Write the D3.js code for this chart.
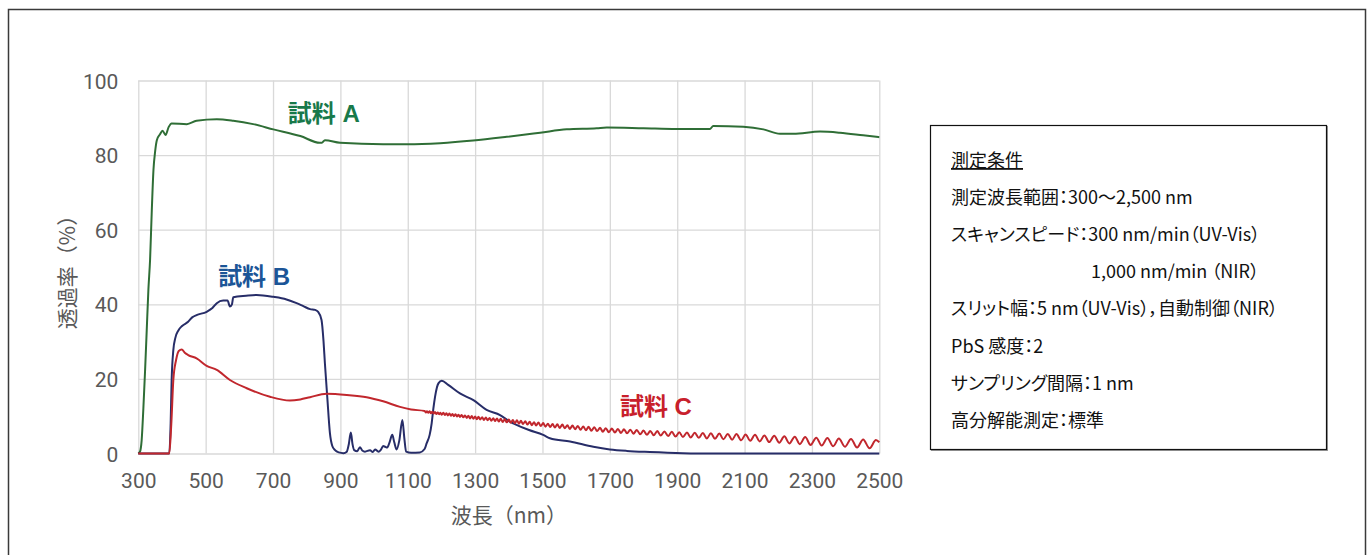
<!DOCTYPE html>
<html>
<head>
<meta charset="utf-8">
<script src="https://cdn.jsdelivr.net/npm/d3@7"></script>
<style>
  html, body { margin: 0; padding: 0; background: #fff; }
  svg { display: block; }
  text { font-family: "Noto Sans CJK JP", "Noto Sans", sans-serif; }
  .tick text { font-family: Roboto, "Liberation Sans", sans-serif; }
  .series-label { font-family: "Liberation Sans", "Noto Sans CJK JP", sans-serif; }
</style>
</head>
<body>
<div id="chart"></div>
<script>
// wavelength ticks (nm) and transmittance ticks (%)
const xTicks = [300, 500, 700, 900, 1100, 1300, 1500, 1700, 1900, 2100, 2300, 2500];
const yTicks = [0, 20, 40, 60, 80, 100];

// 試料 A : [nm, %]
const sampleA = [
  [300, 0], [305, 0.5], [310, 3.6], [315, 12], [320, 22], [325, 33], [330, 44], [335, 52],
  [340, 65], [345, 76], [350, 81], [355, 84], [364, 85.5], [372, 86.5], [381, 85.4], [390, 87.5],
  [399, 88.5], [444, 88.3], [473, 89.2], [533, 89.6], [582, 89.2], [641, 88.3], [701, 86.9],
  [781, 85.1], [839, 83.3], [845, 83.3], [854, 84.0], [899, 83.3], [1027, 82.9], [1100, 82.9],
  [1196, 83.2], [1294, 83.9], [1394, 84.9], [1493, 86.0], [1572, 86.9], [1661, 87.2], [1691, 87.4],
  [1800, 87.2], [1898, 87.0], [1997, 87.0], [2007, 87.8], [2096, 87.6], [2156, 86.9], [2205, 85.7],
  [2245, 85.7], [2324, 86.3], [2383, 86.0], [2452, 85.3], [2500, 84.8]
];

// 試料 B : [nm, %]
const sampleB = [
  [300, 0], [392, 0], [396, 8], [399, 19.7], [404, 27.7], [410, 31], [419, 33], [430, 34.2],
  [448, 35.3], [460, 36.5], [473, 37.1], [503, 38], [520, 39], [533, 40.3], [552, 41], [565, 41],
  [572, 39.4], [578, 40], [582, 41.9], [620, 42.3], [651, 42.5], [701, 42.0], [740, 41.3],
  [770, 40.3], [790, 39.5], [810, 38.7], [825, 38.5], [834, 38.0], [844, 35.8], [850, 30],
  [854, 24.2], [861, 15.2], [869, 5.4], [876, 2], [884, 0.9], [895, 0.3], [909, 0.1], [919, 0.5],
  [925, 2.5], [931, 5.6], [936, 2.5], [941, 0.9], [950, 0.6], [958, 1.7], [965, 0.8], [973, 0.5],
  [988, 0.9], [996, 0.4], [1003, 1.1], [1013, 0.5], [1020, 1.0], [1027, 2.0], [1033, 1.8],
  [1039, 1.6], [1046, 3], [1054, 5.0], [1060, 3], [1067, 1.1], [1075, 3.5], [1084, 9.0], [1090, 4],
  [1095, 0.5], [1110, 0.2], [1136, 0.3], [1150, 1.2], [1156, 2.7], [1165, 5], [1171, 8.1],
  [1176, 12], [1181, 15.2], [1191, 18.8], [1201, 19.5], [1220, 18.4], [1255, 16.1], [1295, 14.3],
  [1334, 11.7], [1374, 10.3], [1404, 8.5], [1413, 8.1], [1460, 6.3], [1502, 5.0], [1522, 4.1],
  [1582, 3.2], [1651, 1.8], [1700, 1.1], [1750, 0.7], [1819, 0.4], [1917, 0.1], [2000, 0], [2500, 0]
];

const sampleC = [
  [300, 0], [392, 0], [398, 8], [404, 19.7], [412, 25], [420, 27.5], [429, 27.9], [438, 27],
  [448, 26.4], [473, 25.5], [503, 23.5], [533, 22.4], [572, 19.7], [622, 17.5], [691, 15.2],
  [750, 14.2], [781, 14.5], [810, 15.1], [859, 16.0], [919, 15.7], [978, 15.1], [1027, 14],
  [1077, 12.5], [1110, 11.8],
  [1150, 11.4], [1154, 11.0], [1157, 11.3], [1161, 10.9], [1165, 11.3], [1169, 10.8], [1173, 11.2],
  [1177, 10.7], [1181, 11.1], [1185, 10.6], [1189, 11.0], [1193, 10.5], [1197, 10.9], [1201, 10.4],
  [1206, 10.9], [1210, 10.3], [1215, 10.8], [1219, 10.2], [1224, 10.7], [1228, 10.1], [1233, 10.6],
  [1237, 10.0], [1242, 10.5], [1246, 9.9], [1251, 10.4], [1255, 9.8], [1260, 10.3], [1265, 9.7],
  [1270, 10.2], [1275, 9.55], [1280, 10.1], [1285, 9.4], [1290, 10.05], [1295, 9.3], [1300, 9.95],
  [1305, 9.2], [1310, 9.85], [1315, 9.1], [1321, 9.75], [1326, 9.0], [1332, 9.65], [1337, 8.9],
  [1343, 9.55], [1348, 8.8], [1354, 9.45], [1359, 8.7], [1365, 9.4], [1370, 8.55], [1376, 9.3],
  [1382, 8.45], [1388, 9.2], [1394, 8.35], [1400, 9.1], [1406, 8.25], [1412, 9.0], [1418, 8.1],
  [1424, 8.9], [1430, 8.0], [1436, 8.75], [1442, 7.9], [1449, 8.65], [1455, 7.75], [1462, 8.5],
  [1468, 7.6], [1475, 8.4], [1481, 7.5], [1488, 8.3], [1495, 7.35], [1502, 8.15], [1509, 7.2],
  [1516, 8.0], [1523, 7.1], [1530, 7.9], [1537, 6.95], [1544, 7.85], [1551, 6.85], [1559, 7.75],
  [1566, 6.75], [1574, 7.6], [1581, 6.6], [1589, 7.5], [1597, 6.5], [1605, 7.4], [1613, 6.35],
  [1621, 7.25], [1629, 6.25], [1637, 7.15], [1645, 6.1], [1654, 7.05], [1662, 6.0], [1671, 6.9],
  [1679, 5.85], [1688, 6.8], [1697, 5.7], [1706, 6.7], [1715, 5.6], [1724, 6.6], [1733, 5.5],
  [1742, 6.5], [1751, 5.4], [1761, 6.4], [1770, 5.3], [1780, 6.3], [1790, 5.15], [1800, 6.15],
  [1810, 5.0], [1820, 6.05], [1830, 4.9], [1841, 6.0], [1851, 4.8], [1862, 5.9], [1873, 4.7],
  [1884, 5.8], [1895, 4.55], [1906, 5.7], [1917, 4.4], [1929, 5.6], [1940, 4.3], [1952, 5.55],
  [1964, 4.2], [1976, 5.5], [1988, 4.05], [2000, 5.4], [2012, 3.95], [2025, 5.35], [2037, 3.8],
  [2050, 5.25], [2063, 3.7], [2076, 5.2], [2090, 3.55], [2103, 5.1], [2117, 3.4], [2131, 5.0],
  [2145, 3.25], [2159, 4.85], [2173, 3.05], [2188, 4.75], [2203, 2.9], [2218, 4.6], [2233, 2.7],
  [2249, 4.5], [2264, 2.5], [2280, 4.4], [2296, 2.3], [2313, 4.25], [2329, 2.15], [2346, 4.15],
  [2363, 1.95], [2380, 4.0], [2398, 1.8], [2416, 3.9], [2434, 1.6], [2452, 3.75], [2471, 1.4],
  [2490, 3.6], [2500, 3.0]
];

const seriesNames = ["試料 A", "試料 B", "試料 C"];
// label anchor points in data units (nm, %)
const labelAt = [[744, 88.9], [537, 45.3], [1730, 10.2]];

const conditionTitle = "測定条件";
const conditionLines = [
  "測定波長範囲：300〜2,500 nm",
  "スキャンスピード：300 nm/min（UV-Vis）",
  "1,000 nm/min （NIR）",
  "スリット幅：5 nm（UV-Vis），自動制御（NIR）",
  "PbS 感度：2",
  "サンプリング間隔：1 nm",
  "高分解能測定：標準"
];

const W = 1370, H = 555;
const plot = { left: 138.3, right: 879.3, top: 80.5, bottom: 453.5 };
const lineColors = ["#2f6e36", "#272d68", "#c1272d"];
const labelColors = ["#18794a", "#1b5597", "#c8202b"];

const svg = d3.select("#chart").append("svg")
  .attr("width", W)
  .attr("height", H);

// outer frame
svg.append("rect")
  .attr("x", 8.5).attr("y", 9.5)
  .attr("width", 1357).attr("height", 560)
  .style("fill", "none")
  .style("stroke", "#3a3a3a")
  .style("stroke-width", "1.5px");

const x = d3.scaleLinear().domain([300, 2500]).range([plot.left, plot.right]);
const y = d3.scaleLinear().domain([0, 100]).range([plot.bottom, plot.top]);

const g = svg.append("g");

// axes with grid
const xAxis = g.append("g")
  .attr("transform", `translate(0,${plot.bottom})`)
  .call(d3.axisBottom(x).tickValues(xTicks).tickSize(-(plot.bottom - plot.top)).tickPadding(20).tickFormat(d3.format("d")));
const yAxis = g.append("g")
  .attr("transform", `translate(${plot.left},0)`)
  .call(d3.axisLeft(y).tickValues(yTicks).tickSize(-(plot.right - plot.left)).tickPadding(20));

[xAxis, yAxis].forEach(a => {
  a.select(".domain").remove();
  a.selectAll(".tick line").style("stroke", "#d9d9d9").style("stroke-width", "1.3px");
  a.selectAll(".tick text").style("fill", "#595959").style("font-size", "21px");
});
yAxis.selectAll(".tick text").attr("dy", "0.36em");

// axis titles
g.append("text")
  .attr("transform", `translate(68,${(plot.top + plot.bottom) / 2}) rotate(-90)`)
  .attr("text-anchor", "middle")
  .attr("dy", "0.35em")
  .style("fill", "#595959")
  .style("font-size", "21px")
  .text("透過率（%）");

g.append("text")
  .attr("x", (plot.left + plot.right) / 2)
  .attr("y", 523)
  .attr("text-anchor", "middle")
  .style("fill", "#595959")
  .style("font-size", "21px")
  .text("波長（nm）");

// curves
const line = d3.line().x(d => x(d[0])).y(d => y(d[1])).curve(d3.curveMonotoneX);
[sampleA, sampleB, sampleC].forEach((s, i) => {
  g.append("path")
    .datum(s)
    .attr("d", line)
    .style("fill", "none")
    .style("stroke", lineColors[i])
    .style("stroke-width", "2px")
    .style("stroke-linejoin", "round");
});

// series labels
seriesNames.forEach((name, i) => {
  g.append("text")
    .attr("class", "series-label")
    .attr("x", x(labelAt[i][0]))
    .attr("y", y(labelAt[i][1]))
    .style("fill", labelColors[i])
    .style("font-size", "24px")
    .style("font-weight", "bold")
    .text(name);
});

// measurement conditions box
const box = svg.append("g");
box.append("rect")
  .attr("x", 931.5).attr("y", 126.5)
  .attr("width", 396).attr("height", 324)
  .style("fill", "none")
  .style("stroke", "#9a9a9a")
  .style("stroke-width", "1px");
box.append("rect")
  .attr("x", 930.5).attr("y", 125.5)
  .attr("width", 396).attr("height", 324)
  .style("fill", "#fff")
  .style("stroke", "#111")
  .style("stroke-width", "1.2px");

const rowY = d => 167 + d * 37.1;
box.append("text")
  .attr("x", 951).attr("y", rowY(0))
  .style("font-size", "18px")
  .style("font-feature-settings", "'palt'")
  .style("text-decoration", "underline")
  .style("fill", "#111")
  .text(conditionTitle);

box.selectAll(".cond")
  .data(conditionLines)
  .enter()
  .append("text")
  .attr("class", "cond")
  .attr("x", (d, i) => i === 2 ? 1091 : 951)
  .attr("y", (d, i) => rowY(i + 1))
  .style("font-size", "18px")
  .style("font-feature-settings", "'palt'")
  .style("fill", "#111")
  .text(d => d);
</script>
</body>
</html>
